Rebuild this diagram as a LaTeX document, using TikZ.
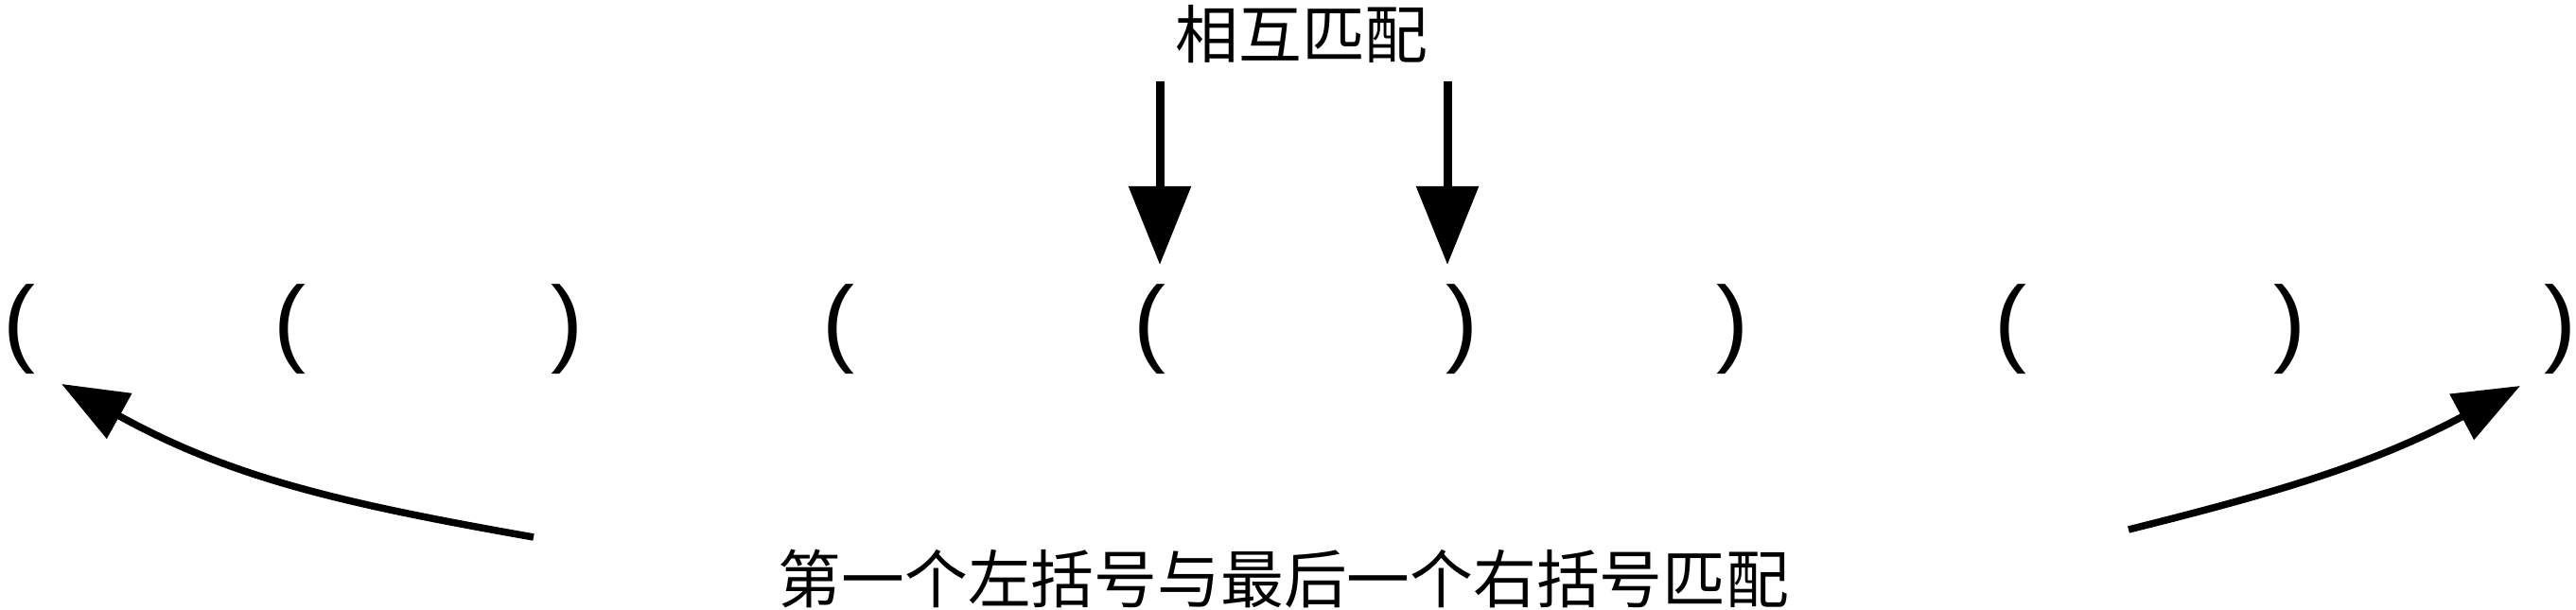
\documentclass[tikz,border=0pt]{standalone}
\usepackage{fontspec}
\setmainfont{Liberation Serif}
\newfontfamily\parenfont{Liberation Sans}
\newfontfamily\cjk{Noto Sans CJK SC}
\usetikzlibrary{arrows.meta}

\begin{document}
\begin{tikzpicture}[
    paren/.style={inner sep=0pt, font=\parenfont\fontsize{29}{29}\selectfont},
    note/.style={inner sep=0pt, font=\cjk\fontsize{19}{20}\selectfont},
    pointer/.style={-{Triangle[length=0.83cm,width=0.64cm]}, line width=0.09cm},
    sweep/.style={-{Triangle[length=0.70cm,width=0.53cm]}, line width=0.075cm}]
  \useasboundingbox (0,0) rectangle (27.23,6.45);
  \draw
    (0.20,2.97) node[paren] (b0){(}
    (3.06,2.97) node[paren] (b1){(}
    (5.99,2.97) node[paren] (b2){)}
    (8.86,2.97) node[paren] (b3){(}
    (12.15,2.97) node[paren] (b4){(}
    (15.45,2.97) node[paren] (b5){)}
    (18.31,2.97) node[paren] (b6){)}
    (21.25,2.97) node[paren] (b7){(}
    (24.20,2.97) node[paren] (b8){)}
    (27.06,2.97) node[paren] (b9){)};
  \node[note] (mutual) at (13.76,6.09) {相互匹配};
  \node[note] (outer) at (13.57,0.33) {第一个左括号与最后一个右括号匹配};
  \coordinate (m0) at (12.26,5.59);
  \coordinate (m1) at (15.30,5.59);
  \coordinate (t0) at (12.26,3.65);
  \coordinate (t1) at (15.30,3.65);
  \coordinate (l0) at (5.64,0.77);
  \coordinate (l1) at (0.65,2.39);
  \coordinate (r0) at (22.50,0.85);
  \coordinate (r1) at (26.64,2.37);
  \begin{scope}[pointer]
    \draw (m0) to (t0);
    \draw (m1) to (t1);
  \end{scope}
  \begin{scope}[sweep]
    \draw (l0) to[out=170,in=-29] (l1);
    \draw (r0) to[out=14,in=208] (r1);
  \end{scope}
\end{tikzpicture}
\end{document}
